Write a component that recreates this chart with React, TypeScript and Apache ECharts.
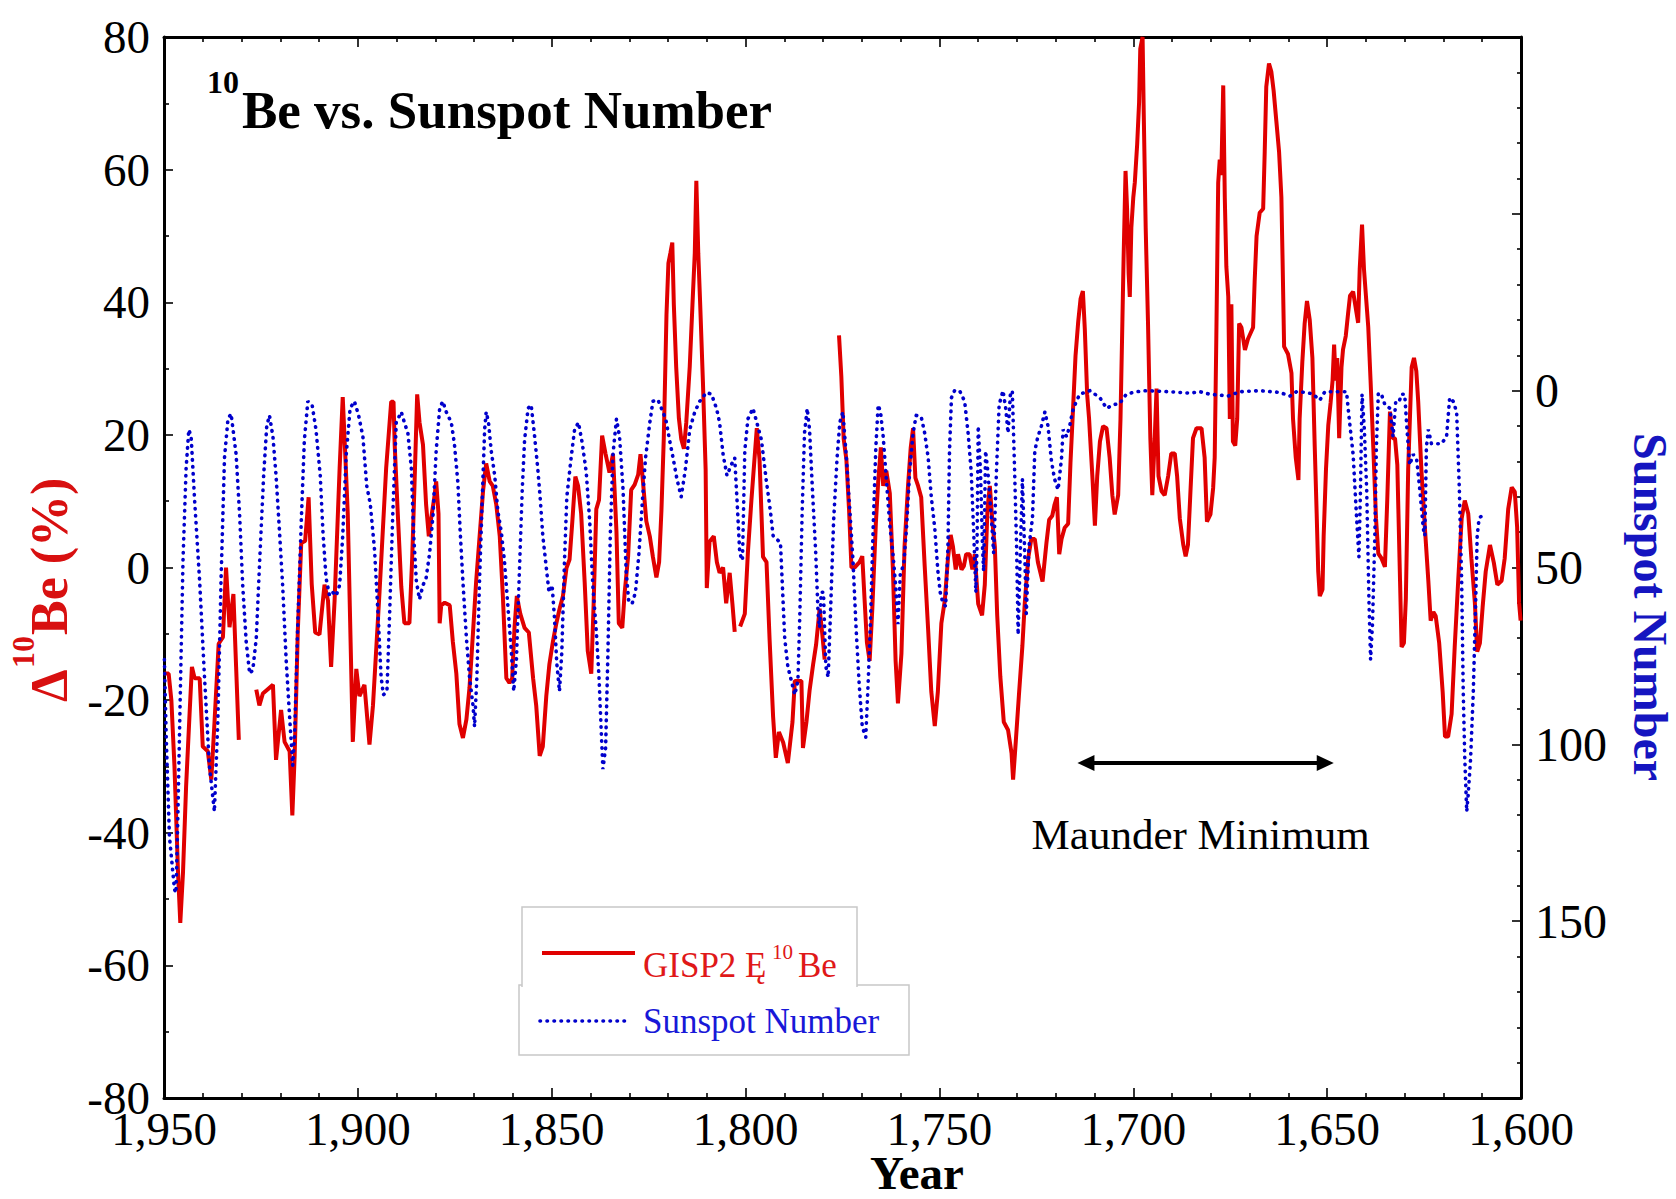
import React, { useEffect, useRef } from "react";
import * as echarts from "echarts";

const SERIF = '"Liberation Serif", "Times New Roman", serif';

// GISP2 10Be anomaly (%), [year, value]; null marks a gap in the record
const beData: Array<[number, number | null]> = [
  [1949.9,-16],[1948.8,-16],[1948.1,-20],[1947.3,-30],[1946.4,-45.7],[1945.8,-53.6],[1945.1,-46],[1944.3,-33],[1943.4,-22],[1942.8,-15],[1942.1,-16.7],[1940.8,-16.7],[1940.0,-27],[1938.7,-27.7],[1937.8,-32],[1937.0,-23.6],[1935.9,-11.5],[1934.8,-10.5],[1934.0,0],[1933.1,-9],[1932.1,-4],[1931.4,-15],[1930.7,-26],[1928.5,null],
  [1926.2,-18.4],[1925.4,-20.8],[1924.5,-19],[1921.9,-17.7],[1921.1,-29],[1919.8,-21.5],[1918.9,-26.3],[1917.6,-27.7],[1916.9,-37.4],[1916.3,-28.4],[1915.5,-9.8],[1914.6,3.7],[1913.6,4],[1912.7,10.6],[1911.9,-2.5],[1911.0,-9.8],[1909.9,-10.1],[1908.6,-2.6],[1907.7,-5],[1906.9,-15],[1906.0,-5],[1904.7,15],[1903.9,25.7],[1903.2,16.4],[1902.6,8],[1901.3,-26.3],[1900.4,-15.3],[1899.6,-19.4],[1898.3,-17.7],[1897.0,-26.7],[1896.1,-20.8],[1894.4,-3.6],[1892.7,15],[1891.4,25],[1890.8,25],[1890.5,18.5],
  [1889.7,8.1],[1888.8,-2.9],[1888.0,-8.4],[1886.7,-8.4],[1886.0,1.2],[1885.4,12.3],[1884.7,26.1],[1884.1,21.9],[1883.2,18.5],[1882.4,9.5],[1881.7,4.7],[1881.1,7.4],[1880.2,10.9],[1879.8,13],[1879.2,8.1],[1878.9,-8.4],[1878.5,-5.7],[1877.6,-5.3],[1876.3,-5.7],[1875.5,-11.2],[1874.6,-16],[1873.8,-23.6],[1872.9,-25.7],[1872.0,-22.9],[1871.2,-18.1],[1870.3,-9.8],[1869.5,-2.2],[1868.6,4.7],[1867.7,11.6],[1866.9,15.7],[1866.0,13],[1865.2,12.3],[1864.3,9.5],[1863.4,4.7],[1862.6,-4.3],[1861.7,-16.7],[1860.9,-17.4],[1860.2,-16.7],[1859.6,-9.1],[1859.0,-4.3],[1858.1,-7],[1857.0,-9.1],[1855.9,-9.8],[1854.8,-16.7],[1854.0,-20.8],[1853.1,-28.4],[1852.3,-27],[1851.4,-19.4],[1850.6,-14.6],[1849.7,-11.2],[1848.8,-8.4],[1848.0,-6.3],[1847.1,-4.3],[1846.2,-0.1],[1845.4,1.2],[1844.7,6.8],[1843.9,13.7],[1843.2,12.3],[1842.4,8.1],[1841.5,-2.2],[1840.7,-12.6],[1839.8,-16],[1839.2,-5.7],[1838.5,8.8],[1837.8,10.2],[1837.0,19.9],[1836.1,17.1],[1835.1,14.3],[1834.2,17.1],[1833.3,5.4],[1832.7,-8.4],[1831.8,-9.1],
  [1831.2,-3.9],[1830.3,1.6],[1829.5,11.7],[1828.6,12.5],[1827.7,14],[1827.1,17.1],[1826.5,13.2],[1825.6,7],[1824.7,4.7],[1823.9,1.6],[1823.0,-1.5],[1822.3,0.8],[1821.7,8.6],[1821.1,19.4],[1820.4,38.1],[1819.9,45.9],[1819.4,47.4],[1818.9,49],[1818.5,39.6],[1817.9,30.3],[1817.2,22.5],[1816.6,19.4],[1815.9,17.9],[1815.3,21.8],[1814.4,30.3],[1813.7,39.6],[1813.1,47.4],[1812.7,58.3],[1812.2,47.4],[1811.7,39.6],[1811.0,28],[1810.3,14.8],[1810.0,-3.1],[1809.3,3.9],[1808.2,4.7],[1807.4,0.8],[1806.7,-0.8],[1805.8,0],[1805.0,-5.4],[1804.1,-0.8],[1803.4,-5.4],[1802.8,-9.7],[1802.1,null],
  [1801.4,-8.9],[1800.2,-7],[1799.4,2.3],[1798.5,10.1],[1797.8,15.6],[1797.1,21],[1796.4,16.3],[1795.5,1.6],[1794.6,0.8],[1793.8,-10.9],[1792.9,-22.5],[1792.2,-28.7],[1791.4,-24.8],[1790.3,-26.4],[1789.1,-29.5],[1787.9,-23.3],[1787.3,-17.1],[1785.6,-17.1],[1785.2,-27.2],[1784.3,-23.3],[1783.5,-18.6],[1782.6,-14.7],[1781.8,-11.6],[1780.9,-6.2],[1780.2,-10.1],[1779.6,-13.9],[1777.8,null],
  [1775.9,35],[1775.3,28.8],[1774.7,19.4],[1774.0,16.3],[1773.3,8.6],[1772.7,0],[1771.9,0],[1770.6,0.8],[1769.9,1.7],[1769.3,-4.9],[1768.7,-11.3],[1768.0,-14.1],[1767.3,-6.1],[1766.4,6.6],[1765.8,12.9],[1765.1,18.1],[1764.5,12.3],[1763.7,14.6],[1762.8,11.2],[1762.0,-0.3],[1761.3,-14.1],[1760.7,-20.5],[1759.8,-13],[1759.0,3.1],[1758.1,12.3],[1757.4,18.1],[1756.8,21],[1756.2,13.5],[1755.5,12.3],[1754.7,10.6],[1753.8,0.2],[1752.9,-9.5],[1752.1,-18.7],[1751.2,-23.9],[1750.4,-18.7],[1749.5,-8.4],[1748.6,-4.9],[1747.8,1.4],[1747.1,4.9],[1746.5,3.1],[1745.8,-0.3],[1745.2,2],[1744.3,-0.3],[1743.7,0.2],[1743.1,2],[1742.2,2],[1741.5,-0.3],[1740.9,2],[1740.0,-5.5],[1739.0,-7.2],[1738.3,-2.6],[1737.6,8.9],[1737.0,12.3],[1736.3,6.6],[1735.7,3.1],[1735.1,-7.2],[1734.3,-16.4],[1733.4,-23.3],[1732.3,-24.5],[1731.4,-28],[1731.0,-32],[1730.3,-26.2],[1729.5,-19.3],[1728.6,-11.8],[1728.0,-5.5],[1727.1,1.4],[1726.3,4.3],[1725.4,4.3],[1724.6,0.8],[1723.4,-2.1],[1722.4,3.7],[1721.7,7.2],[1720.9,7.8],[1720.3,9.5],[1719.7,10.6],[1719.1,2],[1718.5,4.3],[1717.7,6],[1716.8,6.6],[1716.2,15.8],[1715.5,24.4],[1714.9,31.9],[1714.2,37.1],[1713.6,40.5],[1713.0,41.7],[1712.5,35.9],[1711.9,26.1],
  [1711.4,22.4],[1710.5,13.2],[1709.9,6.3],[1709.3,13.8],[1708.6,19],[1707.8,21.3],[1706.9,21],[1706.1,16.6],[1705.4,10.9],[1704.8,8],[1703.9,10.9],[1703.3,22.4],[1702.8,37.4],[1702.5,46.6],[1702.0,59.8],[1701.6,54.1],[1701.2,44.3],[1700.9,40.8],[1700.5,51.2],[1700.0,55.8],[1699.6,58.1],[1699.0,63.8],[1698.5,70.2],[1698.2,78.2],[1697.6,80],[1697.3,68.4],[1696.8,51.2],[1696.2,36.8],[1695.6,19.5],[1695.1,10.9],[1694.5,19],[1694.0,27],[1693.5,13.8],[1692.7,11.5],[1691.9,10.9],[1691.0,13.8],[1690.2,17.2],[1689.3,17.2],[1688.7,13.8],[1688.0,7.4],[1687.1,3.4],[1686.5,1.7],[1685.9,3.4],[1685.3,10.9],[1684.6,19.5],[1683.7,21],[1682.4,21],[1681.6,16.6],[1681.0,6.9],[1680.1,8],[1679.4,12],[1679.0,16.6],[1678.6,33.9],[1678.1,58],[1677.7,61.5],[1677.3,59.2],[1676.8,72.7],[1676.4,55.8],[1676.0,45.4],[1675.5,40.8],[1675.1,22.4],[1674.7,39.7],[1674.3,19],[1673.7,18.4],[1673.2,22.4],[1672.7,36.8],[1672.1,36.2],[1671.2,32.8],[1670.4,34.5],[1669.1,36.2],[1668.7,43.1],[1668.2,50],[1667.4,53.5],[1666.5,54.1],[1666.1,62.7],[1665.7,72.5],[1665.0,76],[1664.4,74.8],[1663.8,71.9],[1663.1,67.3],[1662.4,62.7],[1661.8,55.8],[1661.5,46.6],[1661.1,33.3],[1660.1,32.2],[1659.2,29.3],[1658.8,22.4],[1658.1,16.6],[1657.4,13.2],[1657.1,22.4],[1656.4,31],[1655.8,36.8],[1655.2,40.2],[1654.5,37.4],
  [1653.8,31.6],[1653.2,18.2],[1652.7,8.1],[1652.3,-0.6],[1651.9,-4.3],[1651.2,-3.3],[1650.9,4.7],[1650.3,14.8],[1649.7,21.5],[1649.1,24.9],[1648.6,28.2],[1648.2,33.6],[1647.8,28.2],[1647.4,31.6],[1646.9,19.5],[1646.3,30.2],[1645.9,32.9],[1645.2,34.9],[1644.6,38.3],[1644.1,41],[1643.3,41.6],[1642.4,38.3],[1642.0,36.9],[1641.6,45],[1641.0,51.7],[1640.5,45],[1640.0,41],[1639.4,36.3],[1638.8,28.2],[1638.1,18.2],[1637.4,7.4],[1636.8,2.1],[1636.0,1.4],[1635.1,0.1],[1634.5,10.1],[1633.8,23.5],[1633.1,19.5],[1632.5,19.5],[1631.9,15.5],[1631.2,-2],[1630.8,-12],[1630.2,-11.4],[1629.7,-4.7],[1629.1,14.8],[1628.2,30.2],[1627.6,31.6],[1627.0,29.6],[1626.5,24.9],[1625.7,14.8],[1624.8,6.1],[1623.9,-2],[1623.3,-8],[1622.6,-6.7],[1622.0,-7.3],[1621.1,-11.4],[1620.2,-18.8],[1619.6,-25.5],[1618.8,-25.5],[1617.9,-22.1],[1617.1,-12],[1616.2,-2],[1615.3,7.4],[1614.5,10.1],[1613.6,8.1],[1612.8,1.4],[1611.9,-5.3],[1611.3,-12.7],[1610.6,-11.4],[1609.9,-6],[1609.1,-0.6],[1608.0,3.4],[1607.0,0.7],[1606.1,-2.6],[1605.0,-2],[1604.2,1.4],[1603.3,8.8],[1602.4,12.1],[1601.6,11.4],[1601.0,6.1],[1600.5,-5.3],[1600.1,-8]
];

// Sunspot number, [year, value]
const sunspotData: Array<[number, number]> = [
  [1949.9,76],[1949.4,99],[1948.6,126],[1947.3,141],[1946.9,142],[1946.4,119],[1945.8,86],[1945.1,48],[1944.3,22],[1943.6,11],[1943.0,13],[1942.1,31],[1940.8,54],[1939.6,80],[1938.3,106],[1937.0,119],[1936.1,93],[1935.3,54],[1934.4,19],[1933.5,8],[1932.7,6.5],[1931.4,18],[1930.5,35],[1929.7,55],[1928.8,71],[1927.9,80],[1927.1,79],[1926.2,70],[1925.4,50],[1924.3,24],[1923.5,10],[1922.8,7],[1921.9,13],[1921.1,24],[1920.2,40],[1919.4,55],[1918.5,76],[1917.5,94],[1916.8,106],[1916.3,97],[1915.5,66],[1914.6,37],[1913.8,14],[1912.9,3],[1911.8,4],[1910.8,11],[1909.7,24],[1909.0,40],[1908.2,53],[1907.3,58],[1906.5,57],[1905.6,58],[1904.7,55],[1903.9,41],[1903.0,18],[1902.0,5],[1900.9,3],[1899.8,7],[1898.7,13],[1897.7,27],[1896.8,32],[1895.7,45],[1894.8,63],[1894.0,81],[1893.4,86],[1892.5,85],[1891.8,63],[1891.0,35],[1890.1,9],
  [1888.8,6],[1888.0,9],[1887.1,12],[1886.2,22],[1885.6,41],[1884.9,54],[1884.1,59],[1883.2,55],[1882.4,53],[1881.5,46],[1880.6,35],[1879.8,17],[1878.9,5],[1878.1,3],[1877.2,6],[1875.9,9],[1875.1,15],[1874.2,26],[1873.6,40],[1872.9,54],[1872.0,70],[1871.2,81],[1870.3,89],[1869.9,95],[1869.3,81],[1868.6,53],[1867.9,30],[1867.3,11],[1866.9,6],[1866.3,9],[1865.6,17],[1864.7,24],[1863.9,34],[1863.0,40],[1862.2,48],[1861.3,61],[1860.4,74],[1859.8,85],[1859.1,76],[1858.3,50],[1857.6,28],[1857.0,14],[1856.1,5],[1855.3,4],[1854.4,13],[1853.6,22],[1853.0,30],[1852.3,41],[1851.4,50],[1850.7,57],[1849.9,55],[1849.3,64],[1848.7,77],[1848.0,85],[1847.4,74],[1846.7,48],[1846.1,30],[1845.0,19],[1844.1,11],[1843.1,9],[1842.1,15],[1841.1,23],[1840.2,37],[1839.4,55],[1838.5,68],[1837.8,81],[1837.2,97],[1836.8,107],[1836.1,101],[1835.5,74],[1834.9,41],[1834.2,18],[1833.3,8],[1832.5,13],[1831.6,28],
  [1830.8,51],[1830.1,60],[1829.2,60],[1828.4,57],[1827.5,46],[1826.6,31],[1825.8,19],[1824.7,9],[1823.9,3],[1822.6,2.6],[1821.7,5],[1820.6,8],[1819.6,14],[1818.7,19],[1817.7,25],[1816.6,30],[1815.5,22],[1814.4,11],[1813.1,6],[1811.8,3],[1810.1,0.5],[1808.8,1],[1807.5,5],[1806.7,9],[1805.8,18],[1804.8,24],[1803.7,21],[1802.8,19],[1802.2,31],[1801.5,46],[1800.8,48],[1800.2,17],[1799.4,8],[1798.1,5],[1797.1,9],[1795.9,14],[1794.7,25],[1793.6,34],[1792.9,41],[1791.0,43],[1789.9,70],[1789.1,78],[1788.2,82],[1787.3,86],[1786.5,82],[1786.0,63],[1785.4,34],[1784.8,12],[1784.1,5],[1783.5,11],[1782.8,27],[1781.9,46],[1781.3,63],[1780.9,67],[1780.5,57],[1779.9,57],[1779.3,78],[1778.7,81],[1778.1,63],[1777.3,37],[1776.4,19],[1775.7,9],[1774.9,6],[1774.0,19],[1773.1,34],[1772.3,48],[1771.5,67],
  [1770.7,83],[1769.9,95],[1769.0,98],[1768.4,83],[1767.8,66],[1767.1,39],[1766.4,16],[1765.8,4],[1765.2,6],[1764.5,13],[1763.7,25],[1762.8,38],[1762.0,46],[1761.3,55],[1760.7,66],[1760.1,52],[1759.2,49],[1758.5,39],[1757.7,23],[1756.8,12],[1756.0,7],[1754.7,7.4],[1753.8,12],[1752.9,19],[1752.1,30],[1751.2,39],[1750.4,51],[1749.8,57],[1749.1,60],[1748.4,61],[1747.8,44],[1747.4,17],[1746.9,2],[1746.1,0],[1744.8,0],[1743.5,3],[1742.6,12],[1741.8,23],[1741.2,39],[1740.6,57],[1740.3,44],[1740.0,10],[1739.4,23],[1738.9,44],[1738.6,51],[1738.1,17],[1737.5,23],[1736.6,36],[1736.0,46],[1735.3,23],[1734.6,4],[1733.6,0],[1732.9,5],[1732.3,12],[1731.7,1],[1731.2,0],[1730.6,23],[1730.1,44],[1729.7,69],[1729.1,44],[1728.6,25],[1728.0,46],[1727.6,63],[1726.9,44],[1726.0,36],[1725.4,17],[1724.6,13],[1723.7,10],[1722.8,6],[1722.0,10],[1721.1,20],[1720.3,25],[1719.4,28],[1718.5,19],[1718.1,11],[1717.2,13],[1716.4,10],[1715.7,6],[1714.7,3],[1713.8,1],[1712.5,0.5],[1711.2,0],
  [1708.6,2],[1706.9,5],[1705.2,4],[1703.5,3.6],[1701.8,1],[1699.2,0.3],[1696.6,0],[1690.6,0.3],[1685.4,0.7],[1682.8,0.3],[1680.3,1],[1675.5,1.5],[1672.5,0.3],[1667.4,0],[1662.2,0.5],[1659.6,1.5],[1657.9,0.3],[1655.3,0.5],[1653.6,1],[1651.9,2.7],[1650.6,0.3],[1647.6,0.3],[1645.0,0.3],
  [1644.3,8],[1643.3,18],[1642.4,36],[1641.8,47],[1641.4,28],[1641.0,1],[1640.4,11],[1639.8,28],[1639.2,60],[1638.8,76],[1638.3,66],[1637.7,41],[1637.3,16],[1636.8,0.7],[1636.0,1],[1635.1,4],[1633.8,5],[1633.0,13],[1632.3,3],[1631.4,3],[1630.8,1],[1630.0,1],[1629.4,11],[1628.7,21],[1627.8,18],[1626.9,19.5],[1626.1,28],[1625.2,39],[1624.8,41],[1624.4,16],[1623.9,11],[1623.1,15],[1620.5,15],[1619.2,13],[1618.4,2],[1617.5,3],[1616.6,6],[1615.9,28],[1615.3,54],[1614.9,85],[1614.5,104],[1614.0,119],[1613.6,114],[1613.0,104],[1612.3,85],[1611.7,60],[1611.3,41],[1610.8,36],[1610.2,35.5]
];

const yearRange = [1600, 1950];
const beRange = [-80, 80];
const sunspotRange = [-100, 200];
const sunspotLabelValues = [0, 50, 100, 150];
const maunderYears = [1714.4, 1648.3];
const maunderLevel = -29.5;

const RED = "#e00000";
const BLUE = "#0000cc";

export default function App() {
  const ref = useRef<HTMLDivElement>(null);

  useEffect(() => {
    const chart = echarts.init(ref.current!, null, { renderer: "svg" });

    const segments: number[][][] = [];
    let cur: number[][] = [];
    for (const [yr, v] of beData) {
      if (v === null) {
        if (cur.length) segments.push(cur);
        cur = [];
      } else cur.push([yr, v]);
    }
    if (cur.length) segments.push(cur);

    const tickStyle = { color: "#000", width: 1.6 };
    const xAxisBase = {
      type: "value",
      min: yearRange[0],
      max: yearRange[1],
      interval: 50,
      inverse: true,
      splitLine: { show: false },
      axisLine: { show: true, onZero: false, lineStyle: { color: "#000", width: 3 } },
      axisTick: { show: true, inside: true, length: 10, lineStyle: tickStyle },
      minorTick: { show: true, splitNumber: 5, length: 5, lineStyle: tickStyle },
    };

    const option: any = {
      animation: false,
      backgroundColor: "#fff",
      textStyle: { fontFamily: SERIF },
      grid: { left: 164, right: 155, top: 37, bottom: 101 },
      xAxis: [
        {
          ...xAxisBase,
          position: "bottom",
          axisLabel: {
            show: true,
            fontSize: 47,
            lineHeight: 40,
            fontFamily: SERIF,
            color: "#000",
            margin: 11,
            formatter: (v: number) => v.toLocaleString("en-US"),
          },
        },
        { ...xAxisBase, position: "top", axisLabel: { show: false } },
      ],
      yAxis: [
        {
          type: "value",
          position: "left",
          min: beRange[0],
          max: beRange[1],
          interval: 20,
          splitLine: { show: false },
          axisLine: { show: true, onZero: false, lineStyle: { color: "#000", width: 3 } },
          axisTick: { show: true, inside: true, length: 9, lineStyle: tickStyle },
          minorTick: { show: true, splitNumber: 2, length: 5, lineStyle: tickStyle },
          axisLabel: {
            fontSize: 47,
            lineHeight: 24,
            fontFamily: SERIF,
            color: "#000",
            margin: 14,
          },
        },
        {
          type: "value",
          position: "right",
          min: sunspotRange[0],
          max: sunspotRange[1],
          interval: 50,
          inverse: true,
          splitLine: { show: false },
          axisLine: { show: true, onZero: false, lineStyle: { color: "#000", width: 3 } },
          axisTick: { show: true, inside: true, length: 9, lineStyle: tickStyle },
          minorTick: { show: true, splitNumber: 5, length: 4, lineStyle: tickStyle },
          axisLabel: {
            fontSize: 48,
            fontFamily: SERIF,
            color: "#000",
            margin: 14,
            formatter: (v: number) => (sunspotLabelValues.indexOf(v) >= 0 ? String(v) : ""),
          },
        },
      ],
      series: [
        ...segments.map((seg) => ({
          type: "line",
          name: "GISP2",
          xAxisIndex: 0,
          yAxisIndex: 0,
          data: seg,
          symbol: "none",
          showSymbol: false,
          silent: true,
          z: 3,
          lineStyle: { color: RED, width: 4 },
        })),
        {
          type: "line",
          name: "Sunspot Number",
          xAxisIndex: 0,
          yAxisIndex: 1,
          data: sunspotData,
          symbol: "none",
          showSymbol: false,
          silent: true,
          z: 4,
          lineStyle: { color: BLUE, width: 3.6, type: [0.5, 6.5], cap: "round" },
        },
      ],
    };
    chart.setOption(option);

    const a = chart.convertToPixel({ xAxisIndex: 0, yAxisIndex: 0 }, [maunderYears[0], maunderLevel]) as number[];
    const b = chart.convertToPixel({ xAxisIndex: 0, yAxisIndex: 0 }, [maunderYears[1], maunderLevel]) as number[];
    const ay = a[1];

    const txt = (x: number, y: number, text: string, size: number, fill: string, extra: any = {}) => ({
      type: "text",
      x,
      y,
      z: 100,
      style: {
        text,
        fontSize: size,
        fontFamily: SERIF,
        fill,
        verticalAlign: "middle",
        textAlign: "left",
        ...extra,
      },
    });

    const graphic: any[] = [
      // title
      txt(207, 82, "10", 32, "#000", { fontWeight: "bold" }),
      txt(242, 109.5, "Be vs. Sunspot Number", 53, "#000", { fontWeight: "bold" }),
      // left axis name
      {
        type: "group",
        x: 67,
        y: 702,
        rotation: Math.PI / 2,
        z: 100,
        children: [
          txt(0, -17.5, "Δ", 52, "#d81010", { fontWeight: "bold" }),
          txt(34, -44, "10", 32, "#d81010", { fontWeight: "bold" }),
          txt(67, -17.5, "Be (%)", 52, "#d81010", { fontWeight: "bold" }),
        ],
      },
      // right axis name
      {
        type: "group",
        x: 1634,
        y: 433,
        rotation: -Math.PI / 2,
        z: 100,
        children: [txt(0, -16, "Sunspot Number", 48, "#1515c0", { fontWeight: "bold" })],
      },
      // x axis name
      txt(917, 1173, "Year", 47, "#000", { fontWeight: "bold", textAlign: "center", lineHeight: 36 }),
      // legend boxes
      {
        type: "rect",
        z: 100,
        shape: { x: 519, y: 985, width: 390, height: 70 },
        style: { fill: "#fff", stroke: "#c8c8c8", lineWidth: 1.5 },
      },
      {
        type: "rect",
        z: 101,
        shape: { x: 522, y: 907, width: 335, height: 80 },
        style: { fill: "#fff", stroke: null },
      },
      {
        type: "polyline",
        z: 102,
        shape: { points: [[522, 987], [522, 907], [857, 907], [857, 987]] },
        style: { stroke: "#c8c8c8", lineWidth: 1.5, fill: null },
      },
      {
        type: "line",
        z: 103,
        shape: { x1: 542, y1: 953, x2: 635, y2: 953 },
        style: { stroke: RED, lineWidth: 4 },
      },
      {
        type: "line",
        z: 103,
        shape: { x1: 540, y1: 1021, x2: 628, y2: 1021 },
        style: { stroke: BLUE, lineWidth: 3.6, lineDash: [0.5, 6.5], lineCap: "round" },
      },
      { ...txt(643, 965, "GISP2 Ę", 35, "#e01818"), z: 103 },
      { ...txt(772, 952, "10", 21, "#e01818"), z: 103 },
      { ...txt(798, 965, "Be", 35, "#e01818"), z: 103 },
      { ...txt(643, 1021, "Sunspot Number", 35, "#1818d8"), z: 103 },
      // Maunder Minimum annotation
      {
        type: "line",
        z: 100,
        shape: { x1: a[0] + 10, y1: ay, x2: b[0] - 10, y2: ay },
        style: { stroke: "#000", lineWidth: 4 },
      },
      {
        type: "polygon",
        z: 100,
        shape: { points: [[a[0], ay], [a[0] + 17, ay - 8], [a[0] + 17, ay + 8]] },
        style: { fill: "#000" },
      },
      {
        type: "polygon",
        z: 100,
        shape: { points: [[b[0], ay], [b[0] - 17, ay - 8], [b[0] - 17, ay + 8]] },
        style: { fill: "#000" },
      },
      txt((a[0] + b[0]) / 2 - 5, ay + 71, "Maunder Minimum", 43, "#000", { textAlign: "center" }),
    ];

    chart.setOption({ graphic });

    return () => chart.dispose();
  }, []);

  return (
    <div
      ref={ref}
      style={{ position: "absolute", left: 0, top: 0, width: 1676, height: 1199, background: "#fff" }}
    />
  );
}
